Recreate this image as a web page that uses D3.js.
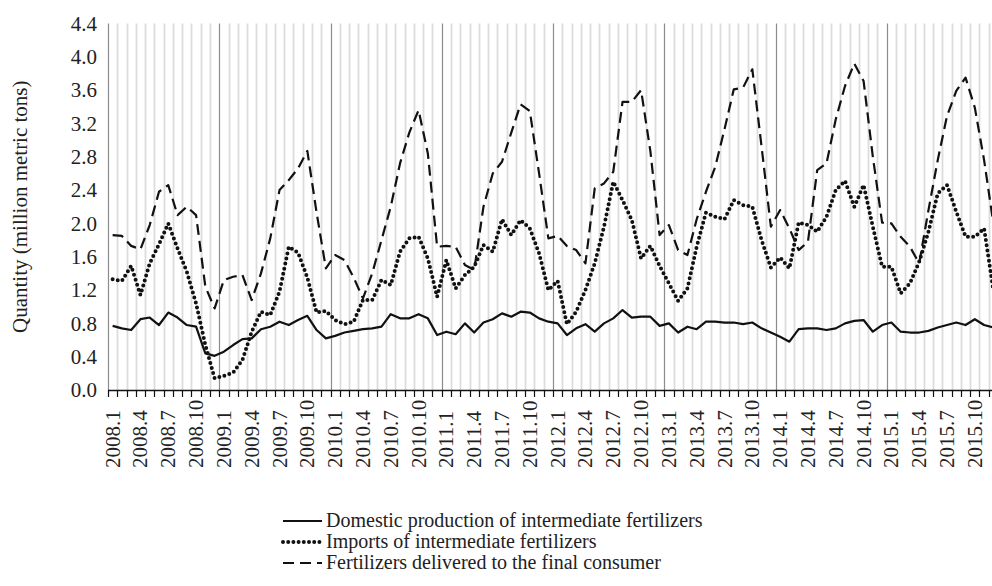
<!DOCTYPE html>
<html>
<head>
<meta charset="utf-8">
<script src="https://cdn.jsdelivr.net/npm/d3@7"></script>
<style>
  body { margin: 0; background: #fff; }
  svg text { font-family: 'Liberation Serif', 'Times New Roman', Times, 'DejaVu Serif', serif; }
</style>
</head>
<body>
<div id="chart"></div>
<script>
const years = [2008, 2009, 2010, 2011, 2012, 2013, 2014, 2015]
const monthNums = [1, 2, 3, 4, 5, 6, 7, 8, 9, 10, 11, 12]
const categories = years.flatMap(y => monthNums.map(m => y + '.' + m))
const labelMonths = [1, 4, 7, 10]
const yTicks = [0, 0.4, 0.8, 1.2, 1.6, 2.0, 2.4, 2.8, 3.2, 3.6, 4.0, 4.4]

// million metric tons, monthly 2008.1 - 2015.12
const domestic = [
  0.77, 0.74, 0.72, 0.85, 0.87, 0.78, 0.93, 0.87, 0.78, 0.76, 0.44, 0.41,
  0.46, 0.54, 0.61, 0.62, 0.73, 0.76, 0.82, 0.78, 0.84, 0.89, 0.72, 0.62,
  0.65, 0.69, 0.71, 0.73, 0.74, 0.76, 0.91, 0.86, 0.86, 0.91, 0.86, 0.66,
  0.70, 0.67, 0.80, 0.69, 0.81, 0.85, 0.92, 0.88, 0.94, 0.93, 0.86, 0.82,
  0.80, 0.66, 0.74, 0.79, 0.70, 0.80, 0.86, 0.96, 0.87, 0.88, 0.88, 0.77,
  0.80, 0.69, 0.76, 0.73, 0.82, 0.82, 0.81, 0.81, 0.79, 0.81, 0.74, 0.69,
  0.64, 0.58, 0.73, 0.74, 0.74, 0.72, 0.74, 0.80, 0.83, 0.84, 0.70, 0.78,
  0.81, 0.70, 0.69, 0.69, 0.71, 0.75, 0.78, 0.81, 0.78, 0.85, 0.78, 0.75
]
const imports = [
  1.33, 1.31, 1.49, 1.14, 1.52, 1.75, 2.00, 1.70, 1.42, 1.04, 0.54, 0.14,
  0.17, 0.21, 0.36, 0.70, 0.94, 0.90, 1.18, 1.72, 1.65, 1.35, 0.93, 0.95,
  0.84, 0.79, 0.82, 1.08, 1.08, 1.32, 1.26, 1.66, 1.82, 1.84, 1.58, 1.12,
  1.56, 1.22, 1.38, 1.48, 1.74, 1.66, 2.05, 1.86, 2.04, 1.94, 1.64, 1.20,
  1.31, 0.79, 0.94, 1.20, 1.52, 1.96, 2.50, 2.28, 2.04, 1.58, 1.73, 1.49,
  1.28, 1.07, 1.22, 1.72, 2.13, 2.08, 2.05, 2.28, 2.22, 2.20, 1.80, 1.47,
  1.59, 1.46, 2.01, 1.98, 1.90, 2.08, 2.40, 2.51, 2.20, 2.46, 1.96, 1.48,
  1.48, 1.16, 1.28, 1.54, 1.90, 2.36, 2.46, 2.14, 1.84, 1.84, 1.94, 1.20
]
const delivered = [
  1.86, 1.85, 1.73, 1.69, 1.98, 2.38, 2.46, 2.10, 2.20, 2.10, 1.24, 0.98,
  1.32, 1.36, 1.38, 1.08, 1.40, 1.82, 2.40, 2.52, 2.66, 2.87, 2.13, 1.46,
  1.62, 1.56, 1.35, 1.10, 1.40, 1.80, 2.20, 2.72, 3.09, 3.36, 2.84, 1.72,
  1.73, 1.72, 1.50, 1.44, 2.20, 2.60, 2.74, 3.09, 3.43, 3.35, 2.60, 1.82,
  1.85, 1.73, 1.68, 1.52, 2.42, 2.48, 2.62, 3.46, 3.46, 3.60, 2.87, 1.86,
  1.98, 1.68, 1.62, 2.05, 2.38, 2.68, 3.13, 3.61, 3.63, 3.85, 2.92, 1.96,
  2.16, 1.94, 1.68, 1.78, 2.64, 2.72, 3.25, 3.65, 3.92, 3.71, 2.80, 2.01,
  2.00, 1.84, 1.72, 1.52, 2.16, 2.76, 3.29, 3.59, 3.75, 3.39, 2.76, 2.00
]
const seriesNames = [
  'Domestic production of intermediate fertilizers',
  'Imports of intermediate fertilizers',
  'Fertilizers delivered to the final consumer'
]

const width = 992, height = 586
const font = "'Liberation Serif', 'Times New Roman', Times, 'DejaVu Serif', serif"

const series = [
  { name: seriesNames[0], values: domestic, dash: null, sw: 2.2, cap: 'butt' },
  { name: seriesNames[1], values: imports, dash: '0,5.2', sw: 4, cap: 'round' },
  { name: seriesNames[2], values: delivered, dash: '11,6', sw: 2.2, cap: 'butt' }
]

let svg = d3.select('#chart')
  .append('svg')
  .attr('width', width)
  .attr('height', height)
  .attr('font-family', font)

let x = d3.scaleBand()
  .domain(categories)
  .range([108, 998])
  .padding(0)

let y = d3.scaleLinear()
  .domain([0, 4.4])
  .range([390, 23.5])

let bw = x.bandwidth()
let plotTop = y(4.4), plotBottom = y(0)

// month gridlines (boundaries between categories)
let bounds = categories.map(c => x(c)).concat([x(categories[categories.length - 1]) + bw])

svg.append('g')
  .selectAll('line')
  .data(bounds.slice(1))
  .join('line')
    .attr('x1', d => Math.round(d) + 0.5)
    .attr('x2', d => Math.round(d) + 0.5)
    .attr('y1', plotTop)
    .attr('y2', plotBottom)
    .attr('stroke', (d, i) => (i + 1) % 12 === 0 ? '#8c8c8c' : '#dcdcdc')
    .attr('stroke-width', (d, i) => (i + 1) % 12 === 0 ? 1.2 : 1.8)

// left axis line
svg.append('line')
  .attr('x1', 108.5).attr('x2', 108.5)
  .attr('y1', plotTop).attr('y2', plotBottom)
  .attr('stroke', '#8c8c8c')
  .attr('stroke-width', 1.2)

// y tick labels
svg.append('g')
  .selectAll('text')
  .data(yTicks)
  .join('text')
    .attr('x', 97)
    .attr('y', d => y(d))
    .attr('dy', '0.35em')
    .attr('text-anchor', 'end')
    .attr('font-family', font)
    .attr('font-size', 21)
    .attr('fill', '#222')
    .text(d => d3.format('.1f')(d))

// bottom axis with tick marks between categories
let xAxis = svg.append('g')
xAxis.append('line')
  .attr('x1', 108).attr('x2', width)
  .attr('y1', plotBottom + 0.5).attr('y2', plotBottom + 0.5)
  .attr('stroke', '#111')
  .attr('stroke-width', 1.3)
xAxis.selectAll('.tick')
  .data(bounds)
  .join('line')
    .attr('class', 'tick')
    .attr('x1', d => Math.round(d) + 0.5)
    .attr('x2', d => Math.round(d) + 0.5)
    .attr('y1', plotBottom)
    .attr('y2', plotBottom + 7)
    .attr('stroke', '#111')
    .attr('stroke-width', 1.2)

let labelCats = categories.filter(c => labelMonths.includes(+c.split('.')[1]))
xAxis.selectAll('.lab')
  .data(labelCats)
  .join('text')
    .attr('class', 'lab')
    .attr('transform', c => `translate(${x(c) + bw / 2 + 7}, 468) rotate(-90)`)
    .attr('text-anchor', 'start')
    .attr('font-family', font)
    .attr('font-size', 21)
    .attr('fill', '#222')
    .text(c => c)

// y axis title
svg.append('text')
  .attr('transform', `translate(27, ${(plotTop + plotBottom) / 2}) rotate(-90)`)
  .attr('text-anchor', 'middle')
  .attr('font-family', font)
  .attr('font-size', 21)
  .attr('fill', '#222')
  .text('Quantity (million metric tons)')

// series lines
let line = d3.line()
  .x((d, i) => x(categories[i]) + bw / 2)
  .y(d => y(d))

svg.append('g')
  .selectAll('path')
  .data(series)
  .join('path')
    .attr('d', s => line(s.values))
    .attr('fill', 'none')
    .attr('stroke', '#111')
    .attr('stroke-width', s => s.sw)
    .attr('stroke-linecap', s => s.cap)
    .attr('stroke-linejoin', 'round')
    .attr('stroke-dasharray', s => s.dash)

// legend
let legend = svg.append('g')
  .selectAll('g')
  .data(series)
  .join('g')
    .attr('transform', (s, i) => `translate(283, ${521 + i * 21})`)

legend.append('line')
  .attr('x1', 0).attr('x2', 39)
  .attr('y1', 0).attr('y2', 0)
  .attr('stroke', '#111')
  .attr('stroke-width', s => s.sw)
  .attr('stroke-linecap', s => s.cap)
  .attr('stroke-dasharray', s => s.dash)

legend.append('text')
  .attr('x', 43)
  .attr('y', 0)
  .attr('dy', '0.32em')
  .attr('font-family', font)
  .attr('font-size', 20)
  .attr('fill', '#222')
  .text(s => s.name)
</script>
</body>
</html>
